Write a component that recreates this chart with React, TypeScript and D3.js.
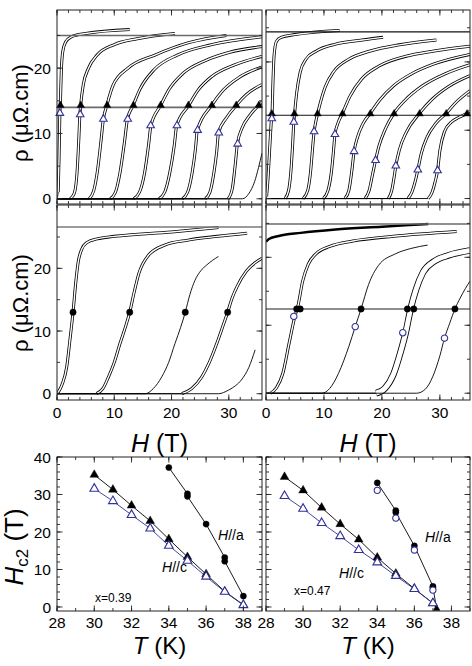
import React from "react";
import * as d3 from "d3";

type Pt = [number, number];
type Style = "single" | "double" | "wide" | "thick";

const FONT = "'Liberation Sans', Arial, Helvetica, sans-serif";
const NAVY = "#30309a";

// ======================= DATA =======================

// ---------- Hc2(T), x = 0.39 ----------
const tempC39 = [30, 31, 32, 33, 34, 35, 36, 37, 38];
const hc2C39Filled = [35.25, 31.3, 27.05, 22.95, 18.1, 13.35, 8.75, 4.15, 0.6];
const hc2C39Open = [31.55, 28.25, 24.55, 20.95, 16.35, 12.35, 8.1, 4.05, 0.5];
const rhoC39Open = [8.4, 10.1, 10.5, 11.2, 11.2, 12.2, 12.2, 12.9, 13.1];
const rhoC39Level = 14.3;
const tempA39 = [34, 35, 35, 36, 37, 37, 38];
const hc2A39Filled = [37.2, 30.2, 29.5, 22.1, 13.2, 12.2, 2.9];

// ---------- Hc2(T), x = 0.47 ----------
const tempC47 = [29, 30, 31, 32, 33, 34, 35, 36, 37];
const hc2C47Filled = [34.7, 31.1, 26.5, 22.1, 18.0, 13.2, 8.9, 4.9, 1.0];
const hc2C47Open = [29.6, 26.2, 22.4, 18.9, 15.2, 11.9, 8.3, 4.8, 1.0];
const rhoC47Open = [4.1, 4.2, 4.8, 5.6, 6.9, 9.4, 9.8, 11.2, 11.7];
const rhoC47Level = 12.4;
const tc47: Pt = [37.2, -0.4];
const tempA47 = [34, 35, 35, 36, 37, 37];
const hc2A47Filled = [33.1, 25.7, 25.2, 16.3, 5.5, 5.2];
const tempA47Open = [34, 35, 36, 37];
const hc2A47Open = [31.1, 23.7, 15.2, 4.5];

// ---------- rho(H), H // c, x = 0.39 (T = 38 ... 29 K) ----------
const curvesC39: Pt[][] = [
  [[0, 0], [0.2, 1], [0.35, 6], [0.5, 13], [0.6, 15], [0.75, 19.5], [1.0, 22.5], [1.5, 24], [2.5, 24.8], [5, 25.3], [12.7, 25.9]],
  [[0, 0], [2.3, 0], [3.0, 0.8], [3.5, 4], [3.8, 9], [4.0, 12.9], [4.15, 14.5], [4.6, 17.5], [5.5, 20], [7, 22], [10, 23.6], [14, 24.5], [20.6, 25.3]],
  [[0, 0], [5.6, 0], [6.4, 1.2], [7.1, 4.5], [7.7, 9], [8.1, 12.2], [8.7, 14.3], [9.8, 17.4], [12.4, 20.0], [17.1, 22.0], [23, 23.9], [29.6, 25.0]],
  [[0, 0], [9.3, 0], [10.2, 1], [11.0, 4], [11.8, 8.8], [12.3, 12.2], [13.3, 14.3], [14.5, 16.8], [17, 19.8], [21, 22], [27, 23.6], [35.8, 24.8]],
  [[0, 0], [13.4, 0], [14.4, 1], [15.3, 4], [16.0, 8.3], [16.4, 11.2], [18.1, 14.3], [19.6, 16.8], [22, 19.2], [26, 21.2], [30, 22.4], [35.8, 23.3]],
  [[0, 0], [17.8, 0], [18.8, 1], [19.7, 4], [20.5, 8.3], [20.9, 11.2], [23.0, 14.3], [24.7, 16.7], [27, 18.7], [31, 20.5], [35.8, 21.8]],
  [[0, 0], [21.9, 0], [22.8, 1], [23.6, 4], [24.2, 7.8], [24.5, 10.5], [27.0, 14.3], [29, 16.6], [32, 18.7], [35.8, 20.2]],
  [[0, 0], [25.9, 0], [26.7, 1], [27.4, 4], [27.9, 7.3], [28.2, 10.1], [29.6, 12.4], [31.3, 14.3], [33, 15.9], [35.8, 17.5]],
  [[0, 0], [29.9, 0], [30.6, 1.5], [31.1, 5], [31.5, 8.4], [32.3, 10.8], [33.6, 12.7], [35.2, 14.3], [35.8, 14.8]],
  [[0, 0], [32.4, 0], [33.5, 0.8], [34.5, 2.6], [35.2, 4.8], [35.8, 7]],
];
const stylesC39: Style[] = ["double", "double", "double", "double", "double", "double", "double", "double", "double", "single"];
const linesC39 = [25.0, 14.0];

// ---------- rho(H), H // c, x = 0.47 (T = 37 ... 29 K) ----------
const curvesC47: Pt[][] = [
  [[0, 0], [0.1, 0.3], [0.35, 3], [0.65, 7.5], [0.95, 11.7], [1.05, 12.6], [1.2, 17], [1.4, 21], [1.8, 23.0], [2.6, 23.6], [5, 24.0], [12.7, 24.6]],
  [[0, 0], [3.3, 0], [3.9, 1.2], [4.3, 4], [4.6, 8], [4.8, 11.2], [4.95, 12.6], [5.3, 15.5], [5.9, 18.5], [6.9, 20.4], [8.7, 21.6], [12, 22.6], [16.6, 23.2], [20.2, 23.6]],
  [[0, 0], [6.4, 0], [7.2, 1.2], [7.7, 4], [8.05, 7.5], [8.3, 9.8], [8.6, 11.3], [8.95, 12.6], [10.2, 16.3], [11.7, 18.6], [14.3, 20.4], [18, 21.6], [23, 22.5], [29.4, 23.2]],
  [[0, 0], [9.9, 0], [10.7, 1.2], [11.3, 4], [11.65, 7], [11.9, 9.4], [12.4, 11], [13.2, 12.5], [14.5, 15], [16.5, 17.5], [19.5, 19.4], [24, 20.8], [29, 21.6], [35.2, 22.3]],
  [[0, 0], [13.6, 0], [14.3, 1.2], [14.8, 4], [15.2, 6.9], [15.8, 9], [16.7, 10.9], [18.0, 12.5], [19.7, 14.5], [22, 16.5], [25, 18.2], [29, 19.7], [35.2, 21.1]],
  [[0, 0], [17.1, 0], [17.8, 1.2], [18.4, 3.6], [18.9, 5.6], [19.5, 7.7], [20.6, 10.2], [22.1, 12.5], [24, 14.4], [27, 16.5], [31, 18.3], [35.2, 19.6]],
  [[0, 0], [21.1, 0], [21.7, 1.2], [22.1, 3.1], [22.4, 4.8], [23, 7.1], [24.2, 9.7], [26.5, 12.5], [28.5, 14.4], [31.5, 16.4], [35.2, 18.0]],
  [[0, 0], [24.5, 0], [25.2, 1.0], [25.8, 2.7], [26.2, 4.2], [26.8, 6.6], [27.8, 9], [29.3, 11], [31.1, 12.5], [32.8, 14.1], [35.2, 15.8]],
  [[0, 0], [28.0, 0], [28.7, 1], [29.2, 2.5], [29.6, 4.1], [30.0, 7.0], [30.8, 9.8], [32.0, 11.2], [33.3, 11.9], [34.7, 12.5], [35.2, 12.8]],
];
const stylesC47: Style[] = ["double", "double", "double", "double", "double", "double", "double", "double", "double"];
const linesC47 = [24.4, 12.2];

// ---------- rho(H), H // a, x = 0.39 (T = 38 ... 34 K) ----------
const curvesA39: Pt[][] = [
  [[0, 0], [0.2, 0.2], [0.9, 1.5], [1.7, 4.3], [2.25, 8.5], [2.8, 13], [3.25, 17.5], [3.7, 21], [4.3, 23], [5.2, 24.1], [7, 24.7], [10, 25.1], [20, 25.8], [28.2, 26.5]],
  [[0, 0], [6.9, 0], [8, 0.8], [9, 2.7], [10, 5], [11, 8], [11.9, 10.5], [12.7, 13], [13.5, 16.3], [14.3, 19.2], [15.9, 22.0], [18.8, 23.7], [22.9, 24.5], [28, 25.1], [33.2, 25.6]],
  [[0, 0], [15.4, 0], [16.8, 0.8], [18.3, 2.7], [19.5, 5], [20.6, 8], [21.6, 10.6], [22.4, 13], [23.2, 15.8], [24.1, 18.1], [25.1, 19.6], [26.1, 20.5], [28.2, 21.9]],
  [[0, 0], [21.8, 0], [23.5, 0.8], [25.3, 2.7], [26.6, 5], [27.9, 8], [28.9, 10.6], [29.8, 13], [30.6, 15.3], [31.4, 17.0], [33.1, 19.6], [34.6, 20.9], [35.8, 21.6]],
  [[0, 0], [28.2, 0], [30, 0.6], [31.2, 1.3], [32.2, 2.2], [33.5, 4.2], [34.6, 7.0]],
];
const stylesA39: Style[] = ["double", "double", "single", "double", "single"];
const linesA39 = [26.6];
const hA39Mid = [29.8, 22.4, 12.7, 2.8];
const rhoA39Level = 13.0;

// ---------- rho(H), H // a, x = 0.47 (T = 38 ... 34 K) ----------
const curvesA47: Pt[][] = [
  [[0, 22.3], [0.5, 22.7], [2, 23.1], [6, 23.6], [12, 24.1], [20, 24.5], [28, 24.9]],
  [[0, 0], [0.8, 0], [1.8, 0.8], [2.9, 2.9], [4.0, 7.4], [4.9, 11.0], [5.6, 13.2], [6.3, 16.4], [7.3, 19.0], [8.6, 20.5], [11, 21.6], [15, 22.4], [22, 23.1], [32.9, 23.8]],
  [[0, 0], [9.6, 0], [11, 0.7], [12.5, 2.9], [14.3, 6.9], [15.4, 9.8], [16.4, 12.4], [17.7, 16.0], [19.4, 18.8], [22.3, 20.5], [25, 21.3], [27.9, 21.8]],
  [[0, 0], [19, 0], [20.5, 0.7], [22, 2.8], [23.2, 6], [24.1, 8.9], [24.95, 12.4], [25.9, 15.3], [27.1, 17.8], [29, 19.4], [31.5, 20.3], [35.2, 21.0]],
  [[0, 0], [26, 0], [27.5, 0.6], [28.8, 2.5], [30, 5.5], [30.8, 8.1], [31.7, 10.3], [32.6, 12.4], [33.5, 14], [34.4, 15.4], [35.2, 16.5]],
];
const stylesA47: Style[] = ["thick", "double", "single", "wide", "single"];
const linesA47 = [24.9, 12.4];
const hA47MidFilled = [32.6, 25.5, 24.4, 16.4, 5.9, 5.3];
const hA47MidOpen = [30.8, 23.6, 15.4, 4.8];
const rhoA47MidOpen = [8.1, 8.9, 9.8, 11.3];
const rhoA47Level = 12.4;

// ---------- tick values ----------
const hTicks = [0, 10, 20, 30];
const rhoTicks = [0, 10, 20];
const tTicks = [28, 30, 32, 34, 36, 38];
const hc2Ticks = [0, 10, 20, 30, 40];

// ======================= LAYOUT =======================
type Frame = { x0: number; x1: number; y0: number; y1: number };
const TL: Frame = { x0: 57, x1: 262, y0: 10, y1: 204 };
const TR: Frame = { x0: 266, x1: 470, y0: 10, y1: 204 };
const ML: Frame = { x0: 57, x1: 262, y0: 205, y1: 400 };
const MR: Frame = { x0: 266, x1: 470, y0: 205, y1: 400 };
const BL: Frame = { x0: 57, x1: 262, y0: 457, y1: 611 };
const BR: Frame = { x0: 266, x1: 470, y0: 457, y1: 611 };

const lin = (dom: [number, number], rng: [number, number]) => d3.scaleLinear().domain(dom).range(rng);

const sx = {
  tl: lin([0, 35.8], [TL.x0, TL.x1]),
  tr: lin([0, 35.2], [TR.x0, TR.x1]),
  bl: lin([28, 39], [BL.x0, BL.x1]),
  br: lin([28, 39], [BR.x0, BR.x1]),
};
const sy = {
  tl: lin([-0.8, 28.9], [TL.y1, TL.y0]),
  tr: lin([-0.8, 27.6], [TR.y1, TR.y0]),
  ml: lin([-1.0, 30.1], [ML.y1, ML.y0]),
  mr: lin([-1.0, 27.7], [MR.y1, MR.y0]),
  b: lin([-1.07, 40], [BL.y1, BL.y0]),
};

type Scale = d3.ScaleLinear<number, number>;

function Axes(props: {
  xs: Scale; ys: Scale; xMajor: number[]; xMinor: number[]; yMajor: number[]; yMinor: number[];
  xLabels?: boolean; yLabels?: boolean; xLabelDy?: number;
}) {
  const { xs, ys, xMajor, xMinor, yMajor, yMinor, xLabels, yLabels } = props;
  const xLabelDy = props.xLabelDy ?? 17.5;
  const [x0, x1] = xs.range();
  const [yb, yt] = ys.range();
  const M = 5.5, m = 3;
  const segs: number[][] = [];
  xMinor.forEach((v) => { const x = xs(v); segs.push([x, yb, x, yb - m], [x, yt, x, yt + m]); });
  xMajor.forEach((v) => { const x = xs(v); segs.push([x, yb, x, yb - M], [x, yt, x, yt + M]); });
  yMinor.forEach((v) => { const y = ys(v); segs.push([x0, y, x0 + m, y], [x1, y, x1 - m, y]); });
  yMajor.forEach((v) => { const y = ys(v); segs.push([x0, y, x0 + M, y], [x1, y, x1 - M, y]); });
  return (
    <g>
      <rect x={x0} y={yt} width={x1 - x0} height={yb - yt} fill="none" stroke="#222" strokeWidth={1} />
      {segs.map((s, i) => (
        <line key={i} x1={s[0]} y1={s[1]} x2={s[2]} y2={s[3]} stroke="#222" strokeWidth={0.9} />
      ))}
      {xLabels && xMajor.map((v) => (
        <text key={"xl" + v} x={xs(v)} y={yb + xLabelDy} textAnchor="middle" fontSize={15.5} fontFamily={FONT}>{v}</text>
      ))}
      {yLabels && yMajor.map((v) => (
        <text key={"yl" + v} x={x0 - 6} y={ys(v) + 5.6} textAnchor="end" fontSize={15.5} fontFamily={FONT}>{v}</text>
      ))}
    </g>
  );
}

const STROKES: Record<Style, [number, number]> = {
  single: [0.9, 0], double: [3.0, 1.4], wide: [6.6, 4.9], thick: [2.4, 0],
};

function linePath(xs: Scale, ys: Scale, pts: Pt[]) {
  return d3.line<Pt>().x((d) => xs(d[0])).y((d) => ys(d[1])).curve(d3.curveMonotoneX)(pts) || "";
}

function Curves(props: { id: string; f: Frame; xs: Scale; ys: Scale; curves: Pt[][]; styles: Style[] }) {
  const { id, f, xs, ys, curves, styles } = props;
  return (
    <g>
      <clipPath id={id}>
        <rect x={f.x0} y={f.y0} width={f.x1 - f.x0} height={f.y1 - f.y0} />
      </clipPath>
      <g clipPath={`url(#${id})`} fill="none" strokeLinejoin="round">
        {curves.map((pts, i) => {
          const s = styles[i];
          const d = linePath(xs, ys, pts);
          if (s === "single" || s === "thick") {
            return <path key={i} d={d} stroke="#000" strokeWidth={STROKES[s][0]} />;
          }
          const body = linePath(xs, ys, pts.slice(1));
          const [o, w] = STROKES[s];
          return (
            <g key={i}>
              <path d={d} stroke="#000" strokeWidth={0.9} />
              <path d={body} stroke="#000" strokeWidth={o} />
              <path d={body} stroke="#fff" strokeWidth={w} />
            </g>
          );
        })}
      </g>
    </g>
  );
}

function HLines(props: { xs: Scale; ys: Scale; vals: number[]; color: string; width: number }) {
  const { xs, ys, vals, color, width } = props;
  const [x0, x1] = xs.range();
  return (
    <g>
      {vals.map((v, i) => (
        <line key={i} x1={x0} x2={x1} y1={ys(v)} y2={ys(v)} stroke={color} strokeWidth={width} />
      ))}
    </g>
  );
}

function Markers(props: { xs: Scale; ys: Scale; pts: Pt[]; shape: "tri" | "circ"; open?: boolean; size: number }) {
  const { xs, ys, pts, shape, open, size } = props;
  const d = d3.symbol().type(shape === "tri" ? d3.symbolTriangle : d3.symbolCircle).size(size)() || "";
  return (
    <g>
      {pts.map((p, i) => (
        <path key={i} d={d} transform={`translate(${xs(p[0])},${ys(p[1])})`}
          fill={open ? "#fff" : "#000"} stroke={open ? NAVY : "#000"} strokeWidth={open ? 1.1 : 0.4} />
      ))}
    </g>
  );
}

function DataLine(props: { xs: Scale; ys: Scale; pts: Pt[]; color: string }) {
  const { xs, ys, pts, color } = props;
  const d = d3.line<Pt>().x((p) => xs(p[0])).y((p) => ys(p[1]))(pts) || "";
  return <path d={d} fill="none" stroke={color} strokeWidth={0.9} />;
}

const zip = (a: number[], b: number[]): Pt[] => a.map((v, i) => [v, b[i]] as Pt);
const level = (a: number[], r: number): Pt[] => a.map((v) => [v, r] as Pt);

export default function App() {
  const hMinor = d3.range(0, 36, 2);
  const rhoMinor = d3.range(0, 30, 5);
  const tMinor = d3.range(28, 40, 1);
  const hc2Minor = d3.range(0, 41, 2);

  return (
    <svg width={472} height={666} viewBox="0 0 472 666"
      style={{ position: "absolute", left: 0, top: 0, background: "#fff" }} fontFamily={FONT}>
      <rect x={0} y={0} width={472} height={666} fill="#fff" />

      {/* ---------- Top-left: H // c, x = 0.39 ---------- */}
      <Curves id="ctl" f={TL} xs={sx.tl} ys={sy.tl} curves={curvesC39} styles={stylesC39} />
      <HLines xs={sx.tl} ys={sy.tl} vals={linesC39} color="#6a6a6a" width={1.6} />
      <Markers xs={sx.tl} ys={sy.tl} pts={level(hc2C39Filled, rhoC39Level)} shape="tri" size={25} />
      <Markers xs={sx.tl} ys={sy.tl} pts={zip(hc2C39Open, rhoC39Open)} shape="tri" open size={25} />
      <Axes xs={sx.tl} ys={sy.tl} xMajor={hTicks} xMinor={hMinor} yMajor={rhoTicks} yMinor={rhoMinor} yLabels />

      {/* ---------- Top-right: H // c, x = 0.47 ---------- */}
      <Curves id="ctr" f={TR} xs={sx.tr} ys={sy.tr} curves={curvesC47} styles={stylesC47} />
      <HLines xs={sx.tr} ys={sy.tr} vals={linesC47} color="#111" width={1.1} />
      <Markers xs={sx.tr} ys={sy.tr} pts={level(hc2C47Filled, rhoC47Level)} shape="tri" size={25} />
      <Markers xs={sx.tr} ys={sy.tr} pts={zip(hc2C47Open, rhoC47Open)} shape="tri" open size={25} />
      <Axes xs={sx.tr} ys={sy.tr} xMajor={hTicks} xMinor={hMinor} yMajor={rhoTicks} yMinor={rhoMinor} />

      {/* ---------- Middle-left: H // a, x = 0.39 ---------- */}
      <Curves id="cml" f={ML} xs={sx.tl} ys={sy.ml} curves={curvesA39} styles={stylesA39} />
      <HLines xs={sx.tl} ys={sy.ml} vals={linesA39} color="#7a7a7a" width={1.6} />
      <Markers xs={sx.tl} ys={sy.ml} pts={level(hA39Mid, rhoA39Level)} shape="circ" size={32} />
      <Axes xs={sx.tl} ys={sy.ml} xMajor={hTicks} xMinor={hMinor} yMajor={rhoTicks} yMinor={rhoMinor} xLabels yLabels />

      {/* ---------- Middle-right: H // a, x = 0.47 ---------- */}
      <Curves id="cmr" f={MR} xs={sx.tr} ys={sy.mr} curves={curvesA47} styles={stylesA47} />
      <HLines xs={sx.tr} ys={sy.mr} vals={linesA47} color="#6a6a6a" width={1.4} />
      <Markers xs={sx.tr} ys={sy.mr} pts={level(hA47MidFilled, rhoA47Level)} shape="circ" size={32} />
      <Markers xs={sx.tr} ys={sy.mr} pts={zip(hA47MidOpen, rhoA47MidOpen)} shape="circ" open size={32} />
      <Axes xs={sx.tr} ys={sy.mr} xMajor={hTicks} xMinor={hMinor} yMajor={rhoTicks} yMinor={rhoMinor} xLabels />

      {/* ---------- Bottom-left: Hc2(T), x = 0.39 ---------- */}
      <DataLine xs={sx.bl} ys={sy.b} pts={zip(tempC39, hc2C39Filled)} color="#000" />
      <DataLine xs={sx.bl} ys={sy.b} pts={zip(tempC39, hc2C39Open)} color={NAVY} />
      <DataLine xs={sx.bl} ys={sy.b} pts={zip(tempA39, hc2A39Filled)} color="#000" />
      <Markers xs={sx.bl} ys={sy.b} pts={zip(tempC39, hc2C39Filled)} shape="tri" size={33} />
      <Markers xs={sx.bl} ys={sy.b} pts={zip(tempA39, hc2A39Filled)} shape="circ" size={30} />
      <Markers xs={sx.bl} ys={sy.b} pts={zip(tempC39, hc2C39Open)} shape="tri" open size={33} />
      <Axes xs={sx.bl} ys={sy.b} xMajor={tTicks} xMinor={tMinor} yMajor={hc2Ticks} yMinor={hc2Minor} xLabels yLabels xLabelDy={16.5} />
      <text x={218} y={540} fontSize={14}><tspan fontStyle="italic">H</tspan>//a</text>
      <text x={162} y={572} fontSize={14}><tspan fontStyle="italic">H</tspan>//c</text>
      <text x={95} y={602} fontSize={12}>x=0.39</text>

      {/* ---------- Bottom-right: Hc2(T), x = 0.47 ---------- */}
      <DataLine xs={sx.br} ys={sy.b} pts={[...zip(tempC47, hc2C47Filled), tc47]} color="#000" />
      <DataLine xs={sx.br} ys={sy.b} pts={zip(tempC47, hc2C47Open)} color={NAVY} />
      <DataLine xs={sx.br} ys={sy.b} pts={[...zip(tempA47, hc2A47Filled), tc47]} color="#000" />
      <Markers xs={sx.br} ys={sy.b} pts={zip(tempC47, hc2C47Filled)} shape="tri" size={33} />
      <Markers xs={sx.br} ys={sy.b} pts={[tc47]} shape="tri" size={20} />
      <Markers xs={sx.br} ys={sy.b} pts={zip(tempA47, hc2A47Filled)} shape="circ" size={30} />
      <Markers xs={sx.br} ys={sy.b} pts={zip(tempC47, hc2C47Open)} shape="tri" open size={33} />
      <Markers xs={sx.br} ys={sy.b} pts={zip(tempA47Open, hc2A47Open)} shape="circ" open size={30} />
      <Axes xs={sx.br} ys={sy.b} xMajor={tTicks} xMinor={tMinor} yMajor={hc2Ticks} yMinor={hc2Minor} xLabels xLabelDy={16.5} />
      <text x={425} y={542} fontSize={14}><tspan fontStyle="italic">H</tspan>//a</text>
      <text x={339} y={578} fontSize={14}><tspan fontStyle="italic">H</tspan>//c</text>
      <text x={294} y={595} fontSize={12}>x=0.47</text>

      {/* ---------- Axis titles ---------- */}
      <text transform="translate(28,113) rotate(-90)" textAnchor="middle" fontSize={22}>ρ (μΩ.cm)</text>
      <text transform="translate(28,303) rotate(-90)" textAnchor="middle" fontSize={22}>ρ (μΩ.cm)</text>
      <text transform="translate(23,547) rotate(-90)" textAnchor="middle" fontSize={26}>
        <tspan fontStyle="italic">H</tspan><tspan fontSize={17} dy={5}>c2</tspan><tspan dy={-5}> (T)</tspan>
      </text>
      <text x={159.5} y={451.5} textAnchor="middle" fontSize={25}><tspan fontStyle="italic">H</tspan> (T)</text>
      <text x={368} y={451.5} textAnchor="middle" fontSize={25}><tspan fontStyle="italic">H</tspan> (T)</text>
      <text x={159.5} y={654} textAnchor="middle" fontSize={24}><tspan fontStyle="italic">T</tspan> (K)</text>
      <text x={368} y={654} textAnchor="middle" fontSize={24}><tspan fontStyle="italic">T</tspan> (K)</text>
    </svg>
  );
}
